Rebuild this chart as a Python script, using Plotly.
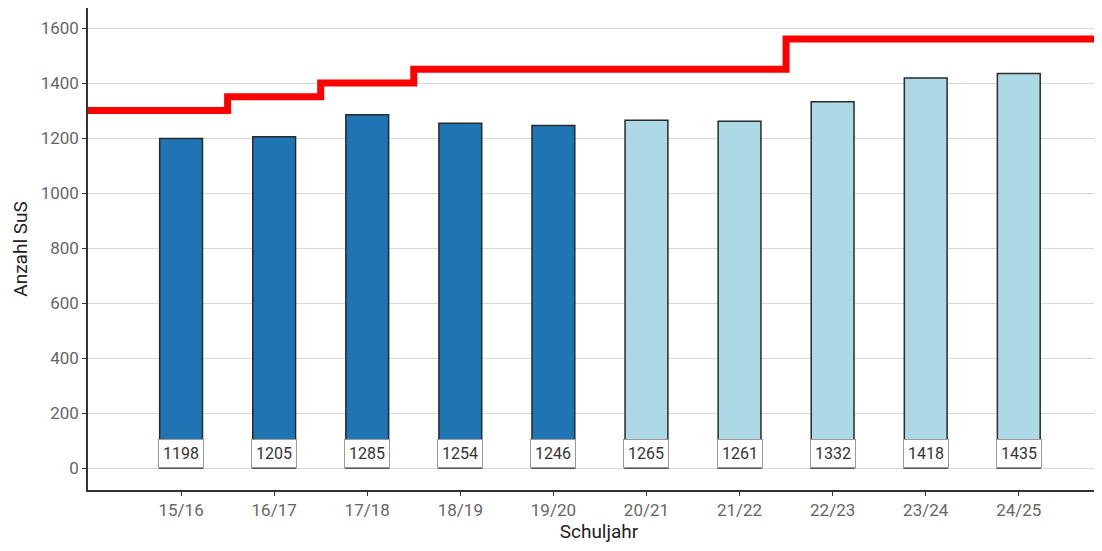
import plotly.graph_objects as go

years = ["15/16", "16/17", "17/18", "18/19", "19/20", "20/21", "21/22", "22/23", "23/24", "24/25"]
students = [1198, 1205, 1285, 1254, 1246, 1265, 1261, 1332, 1418, 1435]
is_actual = [True, True, True, True, True, False, False, False, False, False]
capacity = [1300, 1350, 1400, 1450, 1450, 1450, 1450, 1560, 1560, 1560]

DARK = "#1f74b4"
LIGHT = "#add8e6"
FONT = "Roboto, sans-serif"

x_lo, x_hi = -1.0, 9.98
idx = list(range(len(years)))

fig = go.Figure()

fig.add_trace(go.Bar(
    x=idx, y=students, width=0.46,
    marker=dict(color=[DARK if a else LIGHT for a in is_actual],
                line=dict(color="#2a2a2a", width=1.5)),
    hoverinfo="x+y", showlegend=False,
))

# capacity step line
step_x = [x_lo] + [i - 0.5 for i in idx[1:]] + [x_hi]
step_y = [capacity[0]] + capacity[1:] + [capacity[-1]]
fig.add_trace(go.Scatter(
    x=step_x, y=step_y, mode="lines",
    line=dict(color="#ff0000", width=7, shape="hv"),
    showlegend=False, hoverinfo="skip",
))

for i, v in zip(idx, students):
    fig.add_annotation(
        x=i, y=52, text=str(v), showarrow=False,
        font=dict(family=FONT, size=16, color="#333333"),
        bgcolor="white", bordercolor="#9a9a9a", borderwidth=1, borderpad=4,
    )

fig.update_layout(
    width=1102, height=551,
    margin=dict(l=80, r=0, t=0, b=69, autoexpand=False),
    plot_bgcolor="white", paper_bgcolor="white",
    font=dict(family=FONT),
    bargap=0.5,
)
fig.update_xaxes(
    range=[x_lo, x_hi], tickvals=idx, ticktext=years,
    showgrid=False, zeroline=False,
    showline=True, linecolor="#333333", linewidth=1.5,
    ticks="outside", ticklen=4, tickcolor="#333333",
    tickfont=dict(family=FONT, size=17, color="#666666"),
    title=dict(text="Schuljahr", font=dict(family=FONT, size=19, color="#222222"), standoff=4),
)
fig.update_yaxes(
    range=[-80, 1673], tickvals=[0, 200, 400, 600, 800, 1000, 1200, 1400, 1600],
    showgrid=True, gridcolor="#d9d9d9", gridwidth=1, zeroline=False,
    showline=True, linecolor="#333333", linewidth=1.5,
    ticks="outside", ticklen=4, tickcolor="#333333",
    tickfont=dict(family=FONT, size=17, color="#666666"),
    title=dict(text="Anzahl SuS", font=dict(family=FONT, size=19, color="#222222"), standoff=8),
)

fig.write_html("out.html")
